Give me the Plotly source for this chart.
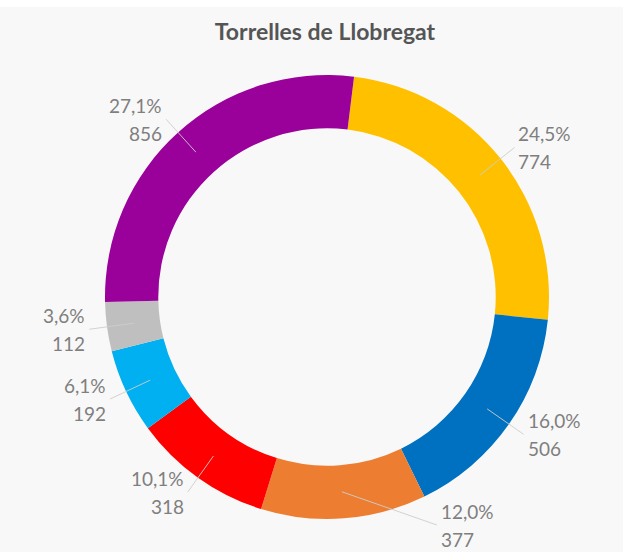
import math
import plotly.graph_objects as go

# Vote shares, Torrelles de Llobregat (clockwise from the top)
categories = ["Groc", "Blau", "Taronja", "Vermell", "Blau cel", "Gris", "Lila"]
values = [774, 506, 377, 318, 192, 112, 856]
pct_labels = ["24,5%", "16,0%", "12,0%", "10,1%", "6,1%", "3,6%", "27,1%"]
colors = ["#ffc000", "#0070c0", "#ed7d31", "#ff0000", "#00b0f0", "#bfbfbf", "#9a009a"]

W, H = 623, 552
CX, CY, R = 327, 297, 222      # ring centre and outer radius, in pixels
HOLE = 0.76
ROTATION = 7                   # first slice starts this many degrees clockwise of 12 o'clock

LABEL_COLOR = "#7f7f7f"
LABEL_FONT = "Lato"


def polar(r, deg):
    a = math.radians(deg)
    return CX + r * math.sin(a), CY - r * math.cos(a)


def paper(x, y):
    return x / W, 1 - y / H


fig = go.Figure(
    go.Pie(
        labels=categories,
        values=values,
        marker=dict(colors=colors, line=dict(width=0)),
        hole=HOLE,
        sort=False,
        direction="clockwise",
        rotation=ROTATION,
        textinfo="none",
        hoverinfo="label+value+percent",
        showlegend=False,
        domain=dict(
            x=[(CX - R) / W, (CX + R) / W],
            y=[1 - (CY + R) / H, 1 - (CY - R) / H],
        ),
    )
)

# Outside data labels with leader lines
total = sum(values)
mid_r = R * (1 + HOLE) / 2
end_r = R * 1.08
slide_r = R * 1.14
bottom_limit = CY + 228
shapes = []
annotations = []
start = ROTATION
for v, pct in zip(values, pct_labels):
    span = 360 * v / total
    mid = start + span / 2
    start += span

    x0, y0 = polar(mid_r, mid)
    ex, ey = polar(end_r, mid)
    if ey > bottom_limit:
        # slide the label round a wider circle so it stays inside the chart
        a = math.degrees(math.acos(-(bottom_limit - CY) / slide_r))
        label_angle = a if (mid % 360) < 180 else 360 - a
        ex, ey = polar(slide_r, label_angle)
    right_side = ex >= CX

    px0, py0 = paper(x0, y0)
    px1, py1 = paper(ex, ey)
    shapes.append(dict(type="line", xref="paper", yref="paper",
                       x0=px0, y0=py0, x1=px1, y1=py1,
                       line=dict(color="rgba(205,205,205,0.9)", width=1)))

    lx = ex + (2 if right_side else -2)
    plx, ply = paper(lx, ey)
    for txt, shift in ((pct, 14), (f"{v}", -14)):
        annotations.append(dict(
            text=txt, x=plx, y=ply, xref="paper", yref="paper",
            xanchor="left" if right_side else "right", yanchor="middle",
            yshift=shift, showarrow=False, align="center",
            font=dict(family=LABEL_FONT, size=19, color=LABEL_COLOR),
        ))

# Upper white strip
shapes.insert(0, dict(type="rect", xref="paper", yref="paper", layer="below",
                      x0=0, x1=1, y0=1 - 7 / H, y1=1,
                      fillcolor="#ffffff", line=dict(width=0)))

fig.update_layout(
    width=W,
    height=H,
    autosize=False,
    margin=dict(l=0, r=0, t=0, b=0),
    paper_bgcolor="#f8f8f8",
    plot_bgcolor="#f8f8f8",
    title=dict(
        text="<b>Torrelles de Llobregat</b>",
        x=325 / W, xanchor="center",
        y=1 - 32 / H, yanchor="middle", yref="container",
        font=dict(family="Lato", size=23, color="#555555"),
    ),
    shapes=shapes,
    annotations=annotations,
)

fig.write_html("out.html")
